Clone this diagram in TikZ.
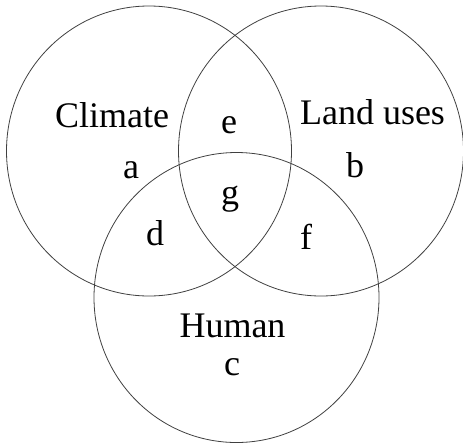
\documentclass[tikz,border=0pt]{standalone}
\usepackage{fontspec}
\setmainfont{Liberation Serif}
\usetikzlibrary{shapes.geometric}
\begin{document}
\begin{tikzpicture}[x=1pt, y=-1pt, font=\fontsize{36}{40}\selectfont,
      ring/.style={draw=black!75, line width=0.8pt, ellipse, inner sep=0pt,
                   minimum width=285pt, minimum height=290pt},
      lbl/.style={anchor=base, inner sep=0pt}]
    \useasboundingbox (0,0) rectangle (463,445);
    \node[ring] (climate) at (149,151) {};
    \node[ring] (land) at (321,151) {};
    \node[ring] (human) at (236.5,297.5) {};
    \node[lbl] (tclimate) at (112,127) {Climate};
    \node[lbl] (tland) at (372.5,124.5) {Land uses};
    \node[lbl] (thuman) at (232.5,337) {Human};
    \node[lbl] (ra) at (131,178) {a};
    \node[lbl] (rb) at (355,177) {b};
    \node[lbl] (rc) at (232,375) {c};
    \node[lbl] (rd) at (155,245) {d};
    \node[lbl] (re) at (229,133) {e};
    \node[lbl] (rf) at (306,249) {f};
    \node[lbl] (rg) at (230,204) {g};
  \end{tikzpicture}
\end{document}
